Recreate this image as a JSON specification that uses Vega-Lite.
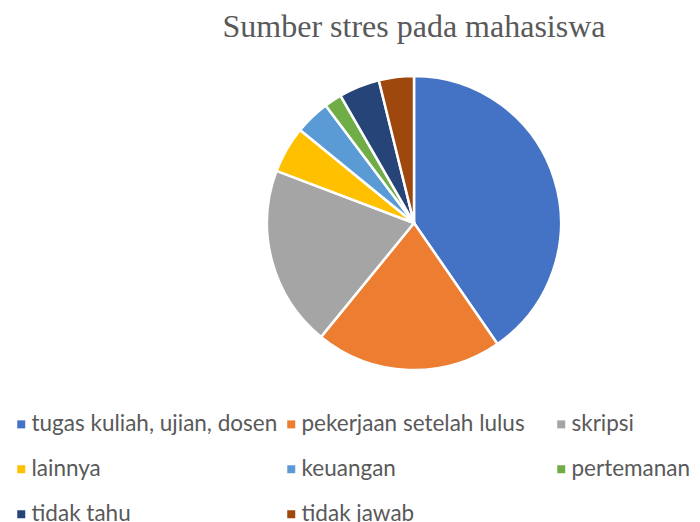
{
  "$schema": "https://vega.github.io/schema/vega-lite/v6.json",
  "autosize": "none",
  "width": 294,
  "height": 294,
  "padding": {"left": 267, "top": 76, "right": 139, "bottom": 152},
  "background": "white",
  "title": {
    "text": "Sumber stres pada mahasiswa",
    "font": "Liberation Serif",
    "fontSize": 32,
    "fontWeight": "normal",
    "color": "#595959",
    "anchor": "middle",
    "offset": 27
  },
  "data": {
    "values": [
      {"kategori": "tugas kuliah, ujian, dosen", "jumlah": 63, "urutan": 1},
      {"kategori": "pekerjaan setelah lulus", "jumlah": 32, "urutan": 2},
      {"kategori": "skripsi", "jumlah": 31, "urutan": 3},
      {"kategori": "lainnya", "jumlah": 8, "urutan": 4},
      {"kategori": "keuangan", "jumlah": 6, "urutan": 5},
      {"kategori": "pertemanan", "jumlah": 3, "urutan": 6},
      {"kategori": "tidak tahu", "jumlah": 7, "urutan": 7},
      {"kategori": "tidak jawab", "jumlah": 6, "urutan": 8}
    ]
  },
  "mark": {"type": "arc", "stroke": "white", "strokeWidth": 2.5},
  "encoding": {
    "theta": {"field": "jumlah", "type": "quantitative", "stack": true},
    "order": {"field": "urutan", "type": "quantitative"},
    "color": {
      "field": "kategori",
      "type": "nominal",
      "sort": null,
      "scale": {
        "domain": ["tugas kuliah, ujian, dosen", "pekerjaan setelah lulus", "skripsi", "lainnya", "keuangan", "pertemanan", "tidak tahu", "tidak jawab"],
        "range": ["#4472C4", "#ED7D31", "#A5A5A5", "#FFC000", "#5B9BD5", "#70AD47", "#264478", "#9E480E"]
      },
      "legend": {
        "title": null,
        "orient": "none",
        "legendX": -257,
        "legendY": 337,
        "direction": "horizontal",
        "columns": 3,
        "gridAlign": "all",
        "columnPadding": 2,
        "rowPadding": 22,
        "padding": 0,
        "symbolType": "square",
        "symbolSize": 64,
        "symbolStrokeWidth": 0,
        "labelOffset": -1,
        "labelFont": "Lato",
        "labelFontSize": 22.5,
        "labelColor": "#595959",
        "labelLimit": 400
      }
    }
  },
  "config": {"view": {"stroke": null}}
}
